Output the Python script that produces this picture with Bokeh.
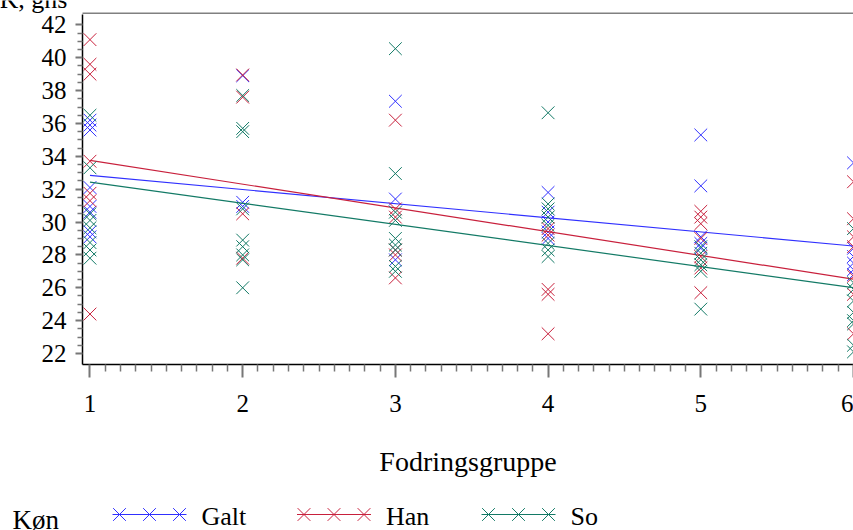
from bokeh.plotting import figure
from bokeh.models import FixedTicker, Range1d
from bokeh.layouts import column
from bokeh.embed import file_html
from bokeh.resources import INLINE
from bokeh.core.properties import value

# ---------------- data ----------------
groups = [1, 2, 3, 4, 5, 6]
series_names = ["Galt", "Han", "So"]

galt_vals = [
    [36.2, 35.9, 35.6, 32.1, 30.95, 30.6, 29.4, 29.1],
    [38.9, 31.2, 30.95],
    [37.35, 31.4, 27.7],
    [31.8, 30.6, 30.0, 29.4, 29.0],
    [35.3, 32.2, 29.1, 28.7, 28.4],
    [33.6, 28.4, 27.9, 27.5, 27.1, 26.8],
]
han_vals = [
    [41.1, 39.6, 39.0, 33.7, 31.75, 31.3, 24.4],
    [38.95, 37.6, 30.5, 27.8],
    [36.2, 30.8, 30.3, 28.3, 28.0, 26.6],
    [29.6, 29.2, 25.9, 25.6, 23.2],
    [30.65, 30.3, 29.9, 29.0, 27.9, 27.2, 25.7],
    [32.45, 30.2, 29.1, 28.5, 26.7, 25.6, 23.2],
]
so_vals = [
    [36.5, 33.3, 30.5, 30.1, 29.65, 28.75, 28.3, 27.8],
    [37.7, 35.7, 35.5, 30.8, 28.9, 28.5, 28.0, 27.7, 26.0],
    [40.55, 32.95, 30.6, 30.1, 29.0, 28.6, 28.3, 27.3, 27.0],
    [36.65, 31.1, 30.8, 30.3, 29.8, 28.7, 28.3, 27.9],
    [28.5, 28.1, 27.7, 27.4, 27.0, 24.7],
    [29.6, 26.3, 25.9, 25.2, 24.5, 24.0, 23.8, 22.5, 22.1],
]

# fitted regression lines (endpoints at group 1 and group 6)
fit_x = [1, 6]
galt_fit = [32.84, 28.54]
han_fit = [33.75, 26.52]
so_fit = [32.43, 26.0]

y_ticks = [22, 24, 26, 28, 30, 32, 34, 36, 38, 40, 42]
x_ticks = [1, 2, 3, 4, 5, 6]

x_label = "Fodringsgruppe"
y_label = "K, gns"
legend_title = "Køn"

colors = ["#3030ff", "#c8203c", "#137a66"]
FONT = "Liberation Serif"

W = 853
X0, X1 = 0.951, 6.0
Y0, Y1 = 21.33, 42.63


def blank(h):
    f = figure(width=W, height=h, output_backend="svg", toolbar_location=None,
               x_range=Range1d(0, W), y_range=Range1d(0, h), min_border=0,
               x_axis_location=None, y_axis_location=None, frame_align=False,
               background_fill_color="white", border_fill_color="white")
    f.outline_line_color = None
    f.xgrid.visible = False
    f.ygrid.visible = False
    return f


# ---------------- top strip: y label + top frame border ----------------
top = blank(14)
top.text(x=[-1], y=[15], text=[y_label], text_font=value(FONT),
         text_font_size="26px", text_color="black", text_baseline="middle",
         text_align="left")
top.line([82, W], [1, 1], line_color="#808080", line_width=2)

# ---------------- main plot ----------------
p = figure(width=W, height=476, output_backend="svg", toolbar_location=None,
           x_range=Range1d(X0, X1), y_range=Range1d(Y0, Y1),
           min_border_left=82, min_border_right=0, min_border_top=0,
           min_border_bottom=126, frame_align=False,
           background_fill_color="white", border_fill_color="white")
p.outline_line_color = None
p.xgrid.visible = False
p.ygrid.visible = False

all_vals = [galt_vals, han_vals, so_vals]
fits = [galt_fit, han_fit, so_fit]
for vals, fit, col in zip(all_vals, fits, colors):
    xs, ys = [], []
    for g, vs in zip(groups, vals):
        for v in vs:
            xs.append(g)
            ys.append(v)
    p.scatter(xs, ys, marker="x", size=18, line_color=col, line_width=1)
    p.line(fit_x, fit, line_color=col, line_width=1.2)

# x axis
xa = p.xaxis[0]
minor_x = [round(a + b / 10, 1) for a in x_ticks[:-1] for b in range(1, 10)]
xa.ticker = FixedTicker(ticks=x_ticks, minor_ticks=minor_x)
xa.axis_line_color = "black"
xa.axis_line_width = 1.5
xa.major_tick_line_color = "#777777"
xa.major_tick_line_width = 2
xa.major_tick_out = 13
xa.major_tick_in = 0
xa.minor_tick_line_color = "#777777"
xa.minor_tick_line_width = 1.5
xa.minor_tick_out = 7
xa.minor_tick_in = 0
xa.major_label_text_font = FONT
xa.major_label_text_font_size = "25px"
xa.major_label_text_color = "black"
xa.major_label_standoff = 17
xa.axis_label = x_label
xa.axis_label_text_font = FONT
xa.axis_label_text_font_size = "28px"
xa.axis_label_text_font_style = "normal"
xa.axis_label_text_color = "black"
xa.axis_label_standoff = 31

# y axis
ya = p.yaxis[0]
minor_y = [t + d for t in y_ticks[:-1] for d in (0.5, 1.0, 1.5)]
ya.ticker = FixedTicker(ticks=y_ticks, minor_ticks=minor_y)
ya.axis_line_color = "black"
ya.axis_line_width = 1.5
ya.major_tick_line_color = "#777777"
ya.major_tick_line_width = 2
ya.major_tick_out = 7
ya.major_tick_in = 0
ya.minor_tick_line_color = "#777777"
ya.minor_tick_line_width = 1.5
ya.minor_tick_out = 5
ya.minor_tick_in = 0
ya.major_label_text_font = FONT
ya.major_label_text_font_size = "25px"
ya.major_label_text_color = "black"
ya.major_label_standoff = 9

# ---------------- legend strip ----------------
lg = blank(40)
lg.text(x=[12], y=[11], text=[legend_title], text_font=value(FONT),
        text_font_size="27px", text_color="black", text_baseline="middle")
for i, (name, col) in enumerate(zip(series_names, colors)):
    x0 = 112 + i * 184.5
    lg.line([x0, x0 + 74], [16, 16], line_color=col, line_width=1.2)
    lg.scatter([x0 + 7, x0 + 37, x0 + 67], [16, 16, 16], marker="x", size=18,
               line_color=col, line_width=1)
    lg.text(x=[x0 + 89], y=[14], text=[name], text_font=value(FONT),
            text_font_size="26px", text_color="black", text_baseline="middle")

layout = column(top, p, lg, spacing=0)
open("out.html", "w").write(file_html(layout, INLINE))
